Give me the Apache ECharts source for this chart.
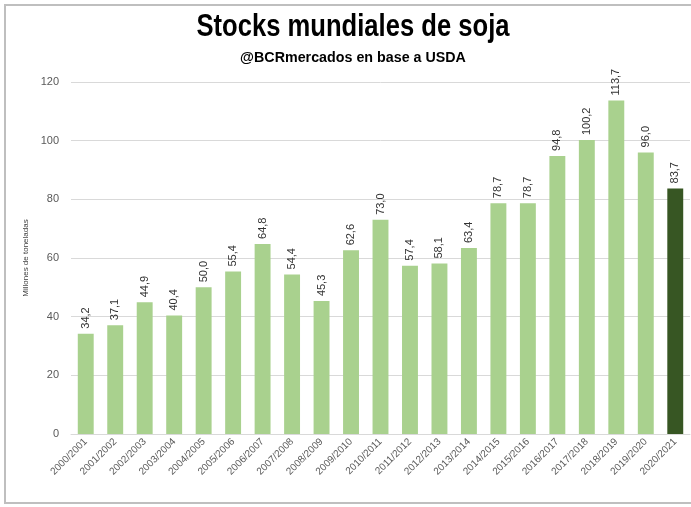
<!DOCTYPE html>
<html>
<head>
<meta charset="utf-8">
<script src="https://cdn.jsdelivr.net/npm/echarts@6/dist/echarts.min.js"></script>
<style>
  html, body { margin: 0; padding: 0; background: #fff; }
  #chart { width: 691px; height: 507px; }
</style>
</head>
<body>
<div id="chart"></div>
<script>
const campaigns = ['2000/2001', '2001/2002', '2002/2003', '2003/2004', '2004/2005', '2005/2006',
    '2006/2007', '2007/2008', '2008/2009', '2009/2010', '2010/2011', '2011/2012', '2012/2013',
    '2013/2014', '2014/2015', '2015/2016', '2016/2017', '2017/2018', '2018/2019', '2019/2020', '2020/2021']
const stocks = [34.2, 37.1, 44.9, 40.4, 50.0, 55.4, 64.8, 54.4, 45.3, 62.6, 73.0, 57.4, 58.1,
    63.4, 78.7, 78.7, 94.8, 100.2, 113.7, 96.0, 83.7]
const yTicks = [0, 20, 40, 60, 80, 100, 120]

const chart = echarts.init(document.getElementById('chart'))

const lightGreen = '#a9d18e'
const darkGreen = '#375623'

// narrow bold titles: no condensed font installed, so squeeze horizontally
const option = {
    animation: false,
    graphic: [
        {
            type: 'rect',
            shape: { x: 5, y: 5, width: 720, height: 498 },
            style: { fill: 'none', stroke: '#bfbfbf', lineWidth: 2 },
            silent: true
        },
        {
            type: 'text',
            x: 353, y: 11,
            scaleX: 0.8,
            style: {
                text: 'Stocks mundiales de soja',
                textAlign: 'center',
                fontFamily: 'Liberation Sans, sans-serif',
                fontSize: 32, fontWeight: 'bold', fill: '#000'
            }
        },
        {
            type: 'text',
            x: 353, y: 51,
            scaleX: 1.02,
            style: {
                text: '@BCRmercados en base a USDA',
                textAlign: 'center',
                fontFamily: 'Liberation Sans, sans-serif',
                fontSize: 14, fontWeight: 'bold', fill: '#000'
            }
        }
    ],
    grid: { left: 71, right: 1, top: 82, bottom: 73 },
    xAxis: {
        type: 'category',
        data: campaigns,
        axisLine: { lineStyle: { color: '#d9d9d9' } },
        axisTick: { show: false },
        axisLabel: { rotate: 45, interval: 0, fontSize: 10, color: '#595959', fontFamily: 'Liberation Sans, sans-serif', margin: 6 }
    },
    yAxis: {
        type: 'value',
        min: yTicks[0],
        max: yTicks[yTicks.length - 1],
        interval: 20,
        name: 'Millones de toneladas',
        nameLocation: 'middle',
        nameGap: 39,
        nameTextStyle: { fontSize: 8, color: '#404040', fontFamily: 'Liberation Sans, sans-serif' },
        axisLine: { show: false },
        axisTick: { show: false },
        axisLabel: { fontSize: 11, color: '#595959', fontFamily: 'Liberation Sans, sans-serif', margin: 12 },
        splitLine: { lineStyle: { color: '#d9d9d9' } }
    },
    series: [{
        type: 'bar',
        barWidth: '54%',
        data: stocks.map((v, i) => ({
            value: v,
            itemStyle: { color: i === stocks.length - 1 ? darkGreen : lightGreen }
        })),
        label: {
            show: true,
            position: 'top',
            rotate: 90,
            align: 'left',
            verticalAlign: 'middle',
            distance: 5,
            fontSize: 11,
            color: '#333',
            fontFamily: 'Liberation Sans, sans-serif',
            formatter: p => p.value.toFixed(1).replace('.', ',')
        }
    }]
}

chart.setOption(option)
</script>
</body>
</html>
